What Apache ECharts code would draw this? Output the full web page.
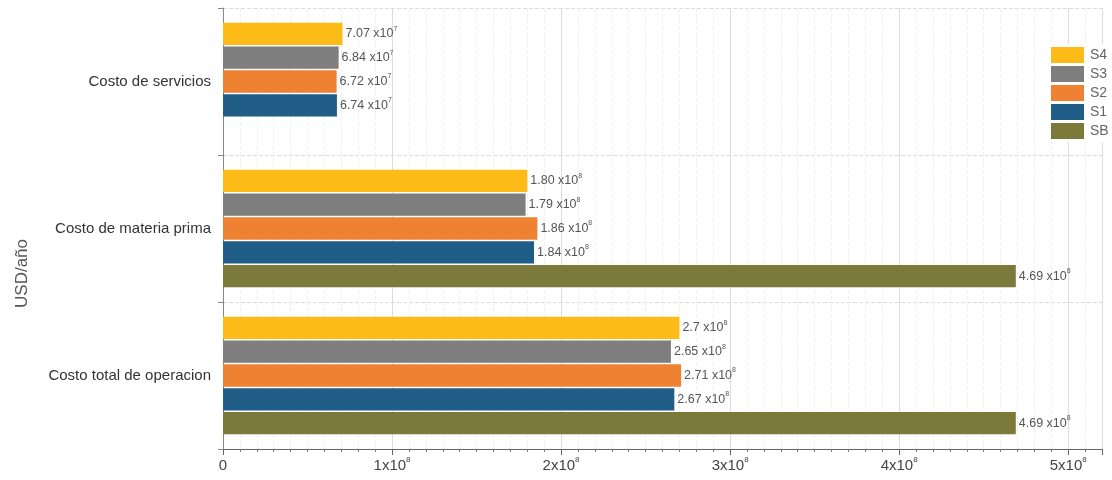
<!DOCTYPE html>
<html>
<head>
<meta charset="utf-8">
<script src="https://cdn.jsdelivr.net/npm/echarts@6/dist/echarts.min.js"></script>
<style>html,body{margin:0;padding:0;background:#fff}#c{width:1112px;height:480px}</style>
</head>
<body>
<div id="c"></div>
<script>
// Categories listed bottom-to-top (category axis grows upward)
const categories = ['Costo total de operacion', 'Costo de materia prima', 'Costo de servicios'];
// series listed top-to-bottom within each band
const seriesNames = ['S4', 'S3', 'S2', 'S1', 'SB'];
const valuesSB = [4.69e8, 4.69e8, null];
const valuesS1 = [2.67e8, 1.84e8, 6.74e7];
const valuesS2 = [2.71e8, 1.86e8, 6.72e7];
const valuesS3 = [2.65e8, 1.79e8, 6.84e7];
const valuesS4 = [2.70e8, 1.80e8, 7.07e7];
// label mantissas as printed
const labelsSB = ['4.69', '4.69', ''];
const labelsS1 = ['2.67', '1.84', '6.74'];
const labelsS2 = ['2.71', '1.86', '6.72'];
const labelsS3 = ['2.65', '1.79', '6.84'];
const labelsS4 = ['2.7', '1.80', '7.07'];
const xTickValues = [0, 1e8, 2e8, 3e8, 4e8, 5e8];
const colors = { SB: '#7c7a3a', S1: '#215e87', S2: '#ef8133', S3: '#7e7e7e', S4: '#fdbb17' };

const allValues = { SB: valuesSB, S1: valuesS1, S2: valuesS2, S3: valuesS3, S4: valuesS4 };
const allLabels = { SB: labelsSB, S1: labelsS1, S2: labelsS2, S3: labelsS3, S4: labelsS4 };
const FF = 'Liberation Sans, Arial, sans-serif';

const chart = echarts.init(document.getElementById('c'));

const series = seriesNames.map(name => ({
  name: name,
  type: 'bar',
  data: allValues[name].map(v => v === null ? '-' : v),
  barGap: '7%',
  barCategoryGap: '20%',
  itemStyle: { color: colors[name] },
  label: {
    show: true,
    position: 'right',
    distance: 3,
    color: '#555',
    fontSize: 12.5,
    fontFamily: FF,
    formatter: p => {
      const v = p.value;
      if (v === '-' || v == null) return '';
      const e = Math.floor(Math.log10(v) + 1e-9);
      return '{m|' + allLabels[name][p.dataIndex] + ' x10}{s|' + e + '}';
    },
    rich: {
      m: { fontSize: 12.5, color: '#555', lineHeight: 17, fontFamily: FF },
      s: { fontSize: 7, color: '#555', verticalAlign: 'top', lineHeight: 17, fontFamily: FF }
    }
  }
}));

chart.setOption({
  animation: false,
  backgroundColor: '#fff',
  grid: { left: 223, right: 10, top: 8, bottom: 31, containLabel: false },
  legend: {
    data: ['S4', 'S3', 'S2', 'S1', 'SB'],
    orient: 'vertical',
    left: 1048,
    top: 44,
    padding: 3,
    backgroundColor: '#fff',
    itemWidth: 33,
    itemHeight: 16,
    itemGap: 3,
    icon: 'rect',
    textStyle: { color: '#666', fontSize: 14, fontFamily: FF, padding: [0, 0, 0, 1] }
  },
  xAxis: {
    type: 'value',
    min: 0,
    max: 5.2e8,
    interval: 1e8,
    axisLine: { show: true, lineStyle: { color: '#666' } },
    axisTick: { show: true, length: 6, lineStyle: { color: '#666' } },
    minorTick: { show: true, splitNumber: 10, length: 3, lineStyle: { color: '#777' } },
    splitLine: { show: true, lineStyle: { color: '#dcdcdc' } },
    minorSplitLine: { show: true, lineStyle: { color: '#f0f0f0', type: 'dashed' } },
    axisLabel: {
      color: '#444',
      fontSize: 15,
      margin: 7,
      fontFamily: FF,
      formatter: v => {
        if (!xTickValues.includes(v)) return '';
        if (v === 0) return '{m|0}';
        return '{m|' + Math.round(v / 1e8) + 'x10}{s|8}';
      },
      rich: {
        m: { fontSize: 15, color: '#444', lineHeight: 20, fontFamily: FF },
        s: { fontSize: 8, color: '#444', verticalAlign: 'top', lineHeight: 20, fontFamily: FF }
      }
    }
  },
  yAxis: {
    type: 'category',
    data: categories,
    name: 'USD/año',
    nameLocation: 'middle',
    nameRotate: 90,
    nameGap: 192,
    nameTextStyle: { color: '#555', fontSize: 17, fontFamily: FF, padding: [0, 90, 0, 0] },
    axisLine: { show: true, lineStyle: { color: '#888' } },
    axisTick: { show: true, length: 5, lineStyle: { color: '#888' } },
    splitLine: { show: true, lineStyle: { color: '#dcdcdc', type: 'dashed' } },
    axisLabel: { color: '#333', fontSize: 15, margin: 12, fontFamily: FF }
  },
  series: series
});
</script>
</body>
</html>
